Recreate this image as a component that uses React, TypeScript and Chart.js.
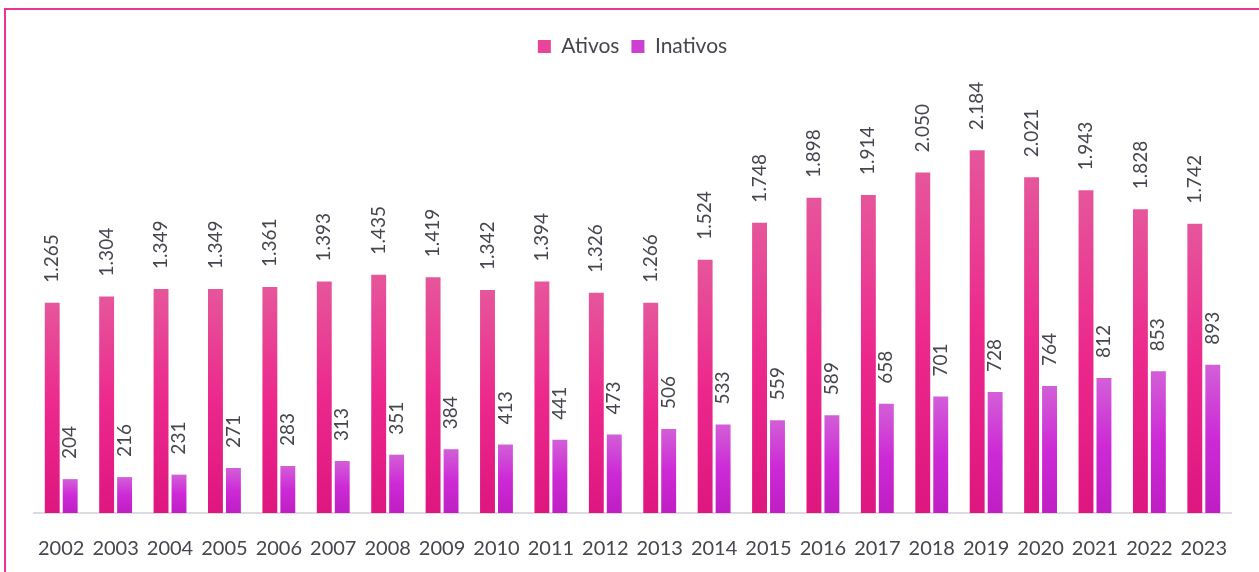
import React, { useEffect, useRef } from "react";
import { Chart, registerables } from "chart.js";

Chart.register(...registerables);

const years = ["2002","2003","2004","2005","2006","2007","2008","2009","2010","2011","2012","2013","2014","2015","2016","2017","2018","2019","2020","2021","2022","2023"];
const ativos = [1265,1304,1349,1349,1361,1393,1435,1419,1342,1394,1326,1266,1524,1748,1898,1914,2050,2184,2021,1943,1828,1742];
const inativos = [204,216,231,271,283,313,351,384,413,441,473,506,533,559,589,658,701,728,764,812,853,893];

const ativosStops = ["#E6569B", "#EC288C", "#DE1680"];
const inativosStops = ["#D25FD7", "#CD2AD6", "#BE1EC3"];
const legendColors = ["#E8449A", "#CD3FD3"];

const FONT = "Lato, 'Open Sans', sans-serif";
const TEXT = "#45454F";

function fmt(v: number): string {
  return String(v).replace(/\B(?=(\d{3})+(?!\d))/g, ".");
}

function barGradient(stops: string[]) {
  return (ctx: any) => {
    if (ctx.type !== "data") return stops[1];
    const chart = ctx.chart;
    const y = chart.scales && chart.scales.y;
    if (!y) return stops[1];
    const top = y.getPixelForValue(ctx.raw);
    const bottom = y.getPixelForValue(0);
    if (!isFinite(top) || !isFinite(bottom) || top === bottom) return stops[1];
    const g = chart.ctx.createLinearGradient(0, top, 0, bottom);
    g.addColorStop(0, stops[0]);
    g.addColorStop(0.5, stops[1]);
    g.addColorStop(1, stops[2]);
    return g;
  };
}

const labelPlugin = {
  id: "rotLabels",
  afterDatasetsDraw(chart: any) {
    const c = chart.ctx;
    c.save();
    c.fillStyle = TEXT;
    c.font = `19px ${FONT}`;
    c.textAlign = "left";
    c.textBaseline = "middle";
    chart.data.datasets.forEach((ds: any, di: number) => {
      const meta = chart.getDatasetMeta(di);
      meta.data.forEach((el: any, i: number) => {
        c.save();
        c.translate(el.x, el.y - 20);
        c.rotate(-Math.PI / 2);
        c.fillText(fmt(ds.data[i]), 0, 0);
        c.restore();
      });
    });
    c.restore();
  },
};

export default function App() {
  const ref = useRef<HTMLCanvasElement>(null);
  useEffect(() => {
    if (!ref.current) return;
    const chart = new Chart(ref.current, {
      type: "bar",
      data: {
        labels: years,
        datasets: [
          { label: "Ativos", data: ativos, backgroundColor: barGradient(ativosStops) as any, borderWidth: 0 },
          { label: "Inativos", data: inativos, backgroundColor: barGradient(inativosStops) as any, borderWidth: 0 },
        ],
      },
      options: {
        animation: false,
        responsive: false,
        maintainAspectRatio: false,
        datasets: { bar: { categoryPercentage: 0.66, barPercentage: 0.83 } } as any,
        layout: { padding: { left: 34, right: 28, top: 24, bottom: 15 } },
        plugins: {
          tooltip: { enabled: false },
          legend: {
            position: "top",
            labels: {
              boxWidth: 13,
              boxHeight: 13,
              padding: 12,
              color: TEXT,
              font: { family: FONT, size: 21 },
              generateLabels: (chart: any) =>
                chart.data.datasets.map((ds: any, i: number) => ({
                  text: ds.label,
                  fillStyle: legendColors[i],
                  strokeStyle: legendColors[i],
                  lineWidth: 0,
                  hidden: false,
                  datasetIndex: i,
                  fontColor: TEXT,
                })),
            },
          },
        },
        scales: {
          x: {
            grid: { display: false, drawTicks: false },
            border: { display: true, color: "#DADADF", width: 2 },
            ticks: { color: TEXT, font: { family: FONT, size: 20 }, padding: 24, maxRotation: 0, autoSkip: false },
          },
          y: {
            display: false,
            min: 0,
            max: 2685,
          },
        },
      },
      plugins: [labelPlugin],
    });
    return () => chart.destroy();
  }, []);
  return (
    <div style={{ position: "fixed", left: 0, top: 0, width: 1259, height: 572, background: "#fff", overflow: "hidden" }}>
      <canvas ref={ref} width={1259} height={600} style={{ position: "absolute", left: 0, top: 0, width: 1259, height: 600 }} />
      <div style={{ position: "absolute", left: 4, top: 8, right: 0, height: 2, background: "#EA3592" }} />
      <div style={{ position: "absolute", left: 4, top: 8, width: 2, bottom: 0, background: "#EA3592" }} />
    </div>
  );
}
